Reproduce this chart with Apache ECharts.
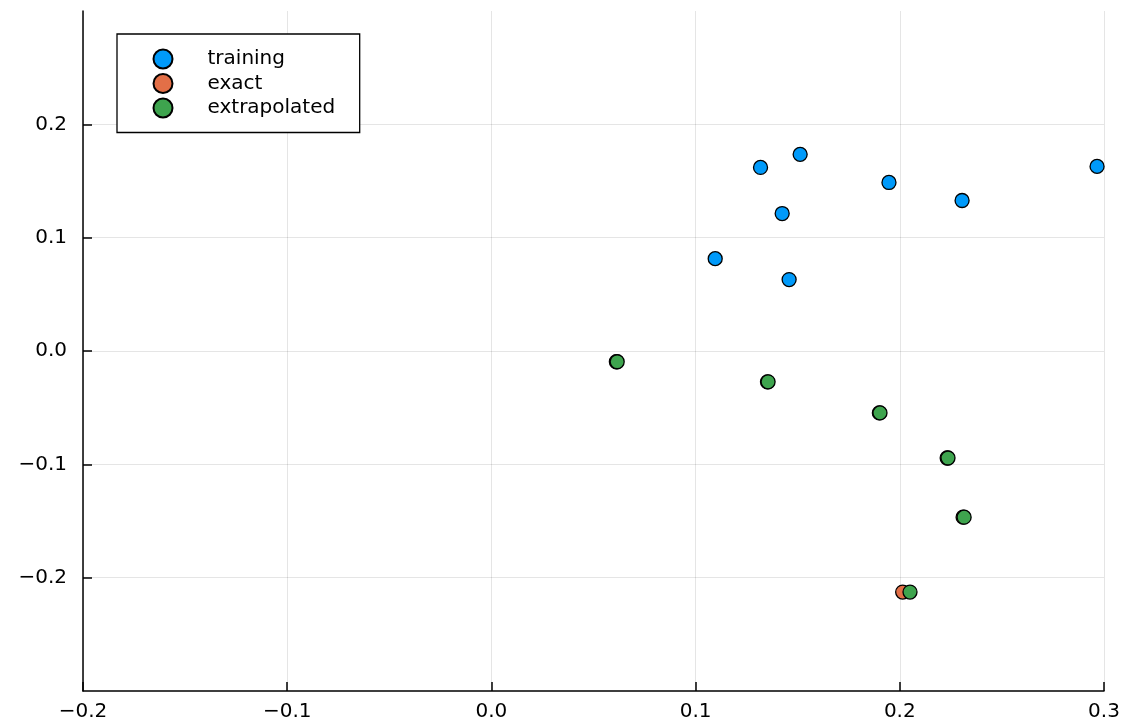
<!DOCTYPE html>
<html>
<head>
<meta charset="utf-8">
<script src="https://cdn.jsdelivr.net/npm/echarts@6/dist/echarts.min.js"></script>
<style>
html,body{margin:0;padding:0;background:#fff;}
#chart{width:1125px;height:726px;}
</style>
</head>
<body>
<div id="chart"></div>
<script>
const seriesNames = ['training', 'exact', 'extrapolated'];
const trainingX = [0.1318, 0.1512, 0.1947, 0.2305, 0.2966, 0.1424, 0.1096, 0.1458];
const trainingY = [0.1620, 0.1735, 0.1487, 0.1328, 0.1629, 0.1213, 0.0815, 0.0630];
const exactX = [0.0612, 0.1352, 0.1900, 0.2232, 0.2310, 0.2014];
const exactY = [-0.0095, -0.0272, -0.0546, -0.0944, -0.1466, -0.2127];
const extrapX = [0.0616, 0.1355, 0.1903, 0.2236, 0.2315, 0.2050];
const extrapY = [-0.0095, -0.0272, -0.0546, -0.0944, -0.1466, -0.2127];
const xTicks = [-0.2, -0.1, 0.0, 0.1, 0.2, 0.3];
const yTicks = [-0.2, -0.1, 0.0, 0.1, 0.2];
const colors = ['#009AFA', '#E36F47', '#3EA44E'];

const zip = (a, b) => a.map((v, i) => [v, b[i]]);
const fmt = v => { const s = (Math.round(v * 10) / 10).toFixed(1); return s.replace('-', '\u2212'); };
const font = 'DejaVu Sans';
const fs = 20;

const chart = echarts.init(document.getElementById('chart'), null, {renderer: 'canvas'});
const mk = (name, data, color) => ({
  name, type: 'scatter', data, symbol: 'circle', symbolSize: 14,
  itemStyle: {color, borderColor: '#000', borderWidth: 1.3, opacity: 1},
  emphasis: {disabled: true}
});
chart.setOption({
  animation: false,
  backgroundColor: '#fff',
  grid: {left: 83, right: 21, top: 11, bottom: 35, containLabel: false},
  xAxis: {
    type: 'value', min: -0.2, max: 0.3, interval: 0.1,
    axisLine: {show: true, onZero: false, lineStyle: {color: '#000', width: 1.5}},
    axisTick: {show: true, inside: true, length: 9, lineStyle: {color: '#000', width: 1.5}, customValues: xTicks},
    axisLabel: {color: '#000', fontSize: fs, fontFamily: font, margin: 11, formatter: fmt, customValues: xTicks},
    splitLine: {show: true, lineStyle: {color: 'rgba(0,0,0,0.1)', width: 1}}
  },
  yAxis: {
    type: 'value', min: -0.3, max: 0.3, interval: 0.1,
    axisLine: {show: true, onZero: false, lineStyle: {color: '#000', width: 1.5}},
    axisTick: {show: true, inside: true, length: 9, lineStyle: {color: '#000', width: 1.5}, customValues: yTicks},
    axisLabel: {color: '#000', fontSize: fs, fontFamily: font, margin: 16, formatter: fmt, customValues: yTicks},
    splitLine: {show: true, lineStyle: {color: 'rgba(0,0,0,0.1)', width: 1}}
  },
  legend: {
    data: seriesNames,
    orient: 'vertical', left: 117, top: 34,
    backgroundColor: '#fff', borderColor: '#000', borderWidth: 1.3,
    padding: [14.5, 24.5, 14, 35.5],
    itemWidth: 19, itemHeight: 19, itemGap: 3.5,
    icon: 'circle',
    textStyle: {color: '#000', fontSize: fs, fontFamily: font, lineHeight: 19, padding: [0, 0, 0, 30]},
    selectedMode: false
  },
  series: [
    mk(seriesNames[0], zip(trainingX, trainingY), colors[0]),
    mk(seriesNames[1], zip(exactX, exactY), colors[1]),
    mk(seriesNames[2], zip(extrapX, extrapY), colors[2])
  ]
});
</script>
</body>
</html>
